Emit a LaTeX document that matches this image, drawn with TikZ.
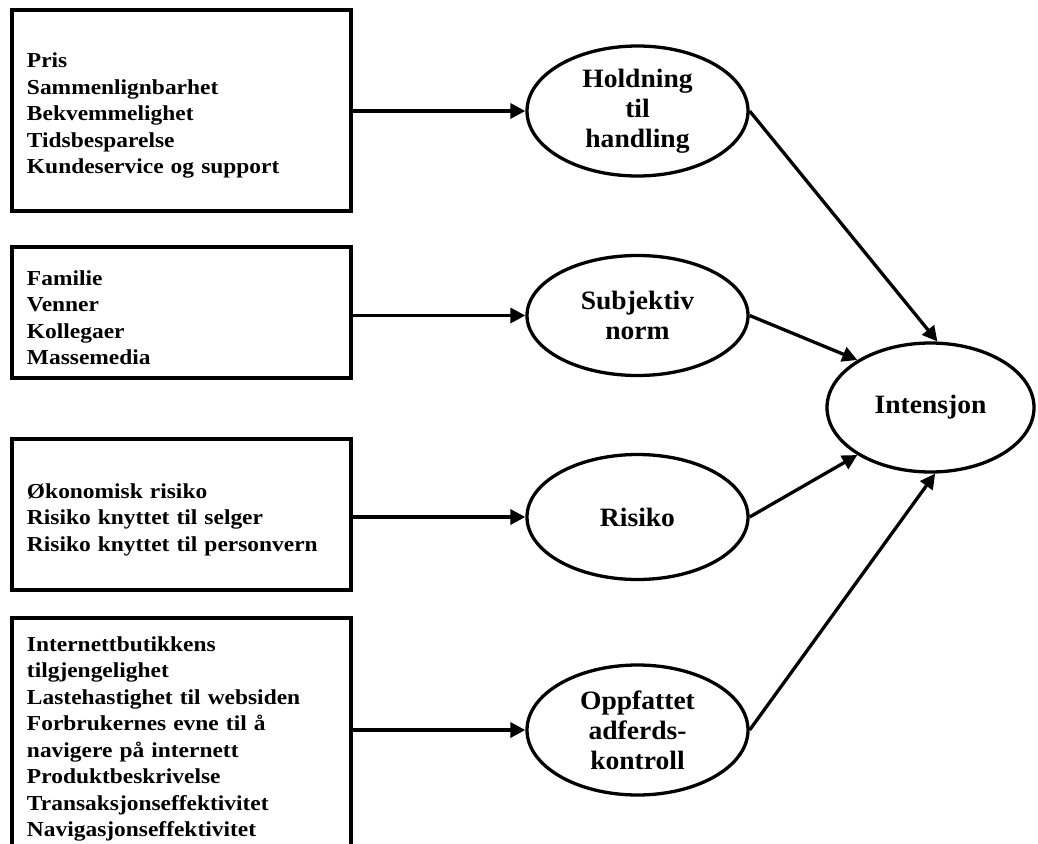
\documentclass[tikz,border=0pt]{standalone}
\usepackage{fontspec}
\setmainfont[FakeStretch=1.1]{Liberation Serif}
\newfontfamily\ovalfont[FakeStretch=1.04]{Liberation Serif}
\usetikzlibrary{arrows.meta,shapes.geometric}

\tikzset{
  factorbox/.style={draw, line width=3.3pt, text width=309pt, inner xsep=15pt, inner ysep=0pt,
    align=left, font=\bfseries\fontsize{21.3}{26.5}\selectfont,
    execute at begin node={\rule{0pt}{25pt}}},
  construct/.style={draw, ellipse, line width=3.3pt, minimum width=221pt, inner sep=0pt,
    align=center, font=\ovalfont\bfseries\fontsize{26.5}{30}\selectfont},
  link/.style={line width=3.3pt, -{Triangle[length=15pt,width=15pt]}}
}

\begin{document}
\begin{tikzpicture}[x=1pt, y=-1pt]
    \useasboundingbox (0,0) rectangle (1038,843);

    % Factor boxes
    \node[factorbox, minimum height=201pt] (pricebox) at (181.5,110.5)
        {Pris\\Sammenlignbarhet\\Bekvemmelighet\\Tidsbesparelse\\Kundeservice og support};
    \node[factorbox, minimum height=131pt] (peerbox) at (181.5,312.5)
        {Familie\\Venner\\Kollegaer\\Massemedia};
    \node[factorbox, minimum height=151pt] (riskbox) at (181.5,514.5)
        {Økonomisk risiko\\Risiko knyttet til selger\\Risiko knyttet til personvern};
    \node[factorbox, minimum height=232pt] (usebox) at (181.5,734)
        {Internettbutikkens\\tilgjengelighet\\Lastehastighet til websiden\\Forbrukernes evne til å\\navigere på internett\\Produktbeskrivelse\\Transaksjonseffektivitet\\Navigasjonseffektivitet};

    % Constructs
    \node[construct, minimum height=130pt] (attitude) at (637.5,111) {Holdning\\til\\handling};
    \node[construct, minimum height=120pt] (norm) at (637.5,315.5) {Subjektiv\\norm};
    \node[construct, minimum height=125pt] (risk) at (637.5,517) {Risiko};
    \node[construct, minimum height=130pt] (control) at (637.5,730) {Oppfattet\\adferds-\\kontroll};
    \node[construct, minimum width=207pt, minimum height=129pt] (intention) at (930.5,407.5) {Intensjon};

    % Box to construct
    \draw[link] (attitude.west -| pricebox.east) -- (attitude.west);
    \draw[link] (norm.west -| peerbox.east) -- (norm.west);
    \draw[link] (risk.west -| riskbox.east) -- (risk.west);
    \draw[link] (control.west -| usebox.east) -- (control.west);

    % Construct to intention
    \draw[link] (attitude.east) -- (intention.84);
    \draw[link] (norm.east) -- (intention.147);
    \draw[link] (risk.east) -- (intention.213);
    \draw[link] (control.east) -- (intention.274);
\end{tikzpicture}
\end{document}
